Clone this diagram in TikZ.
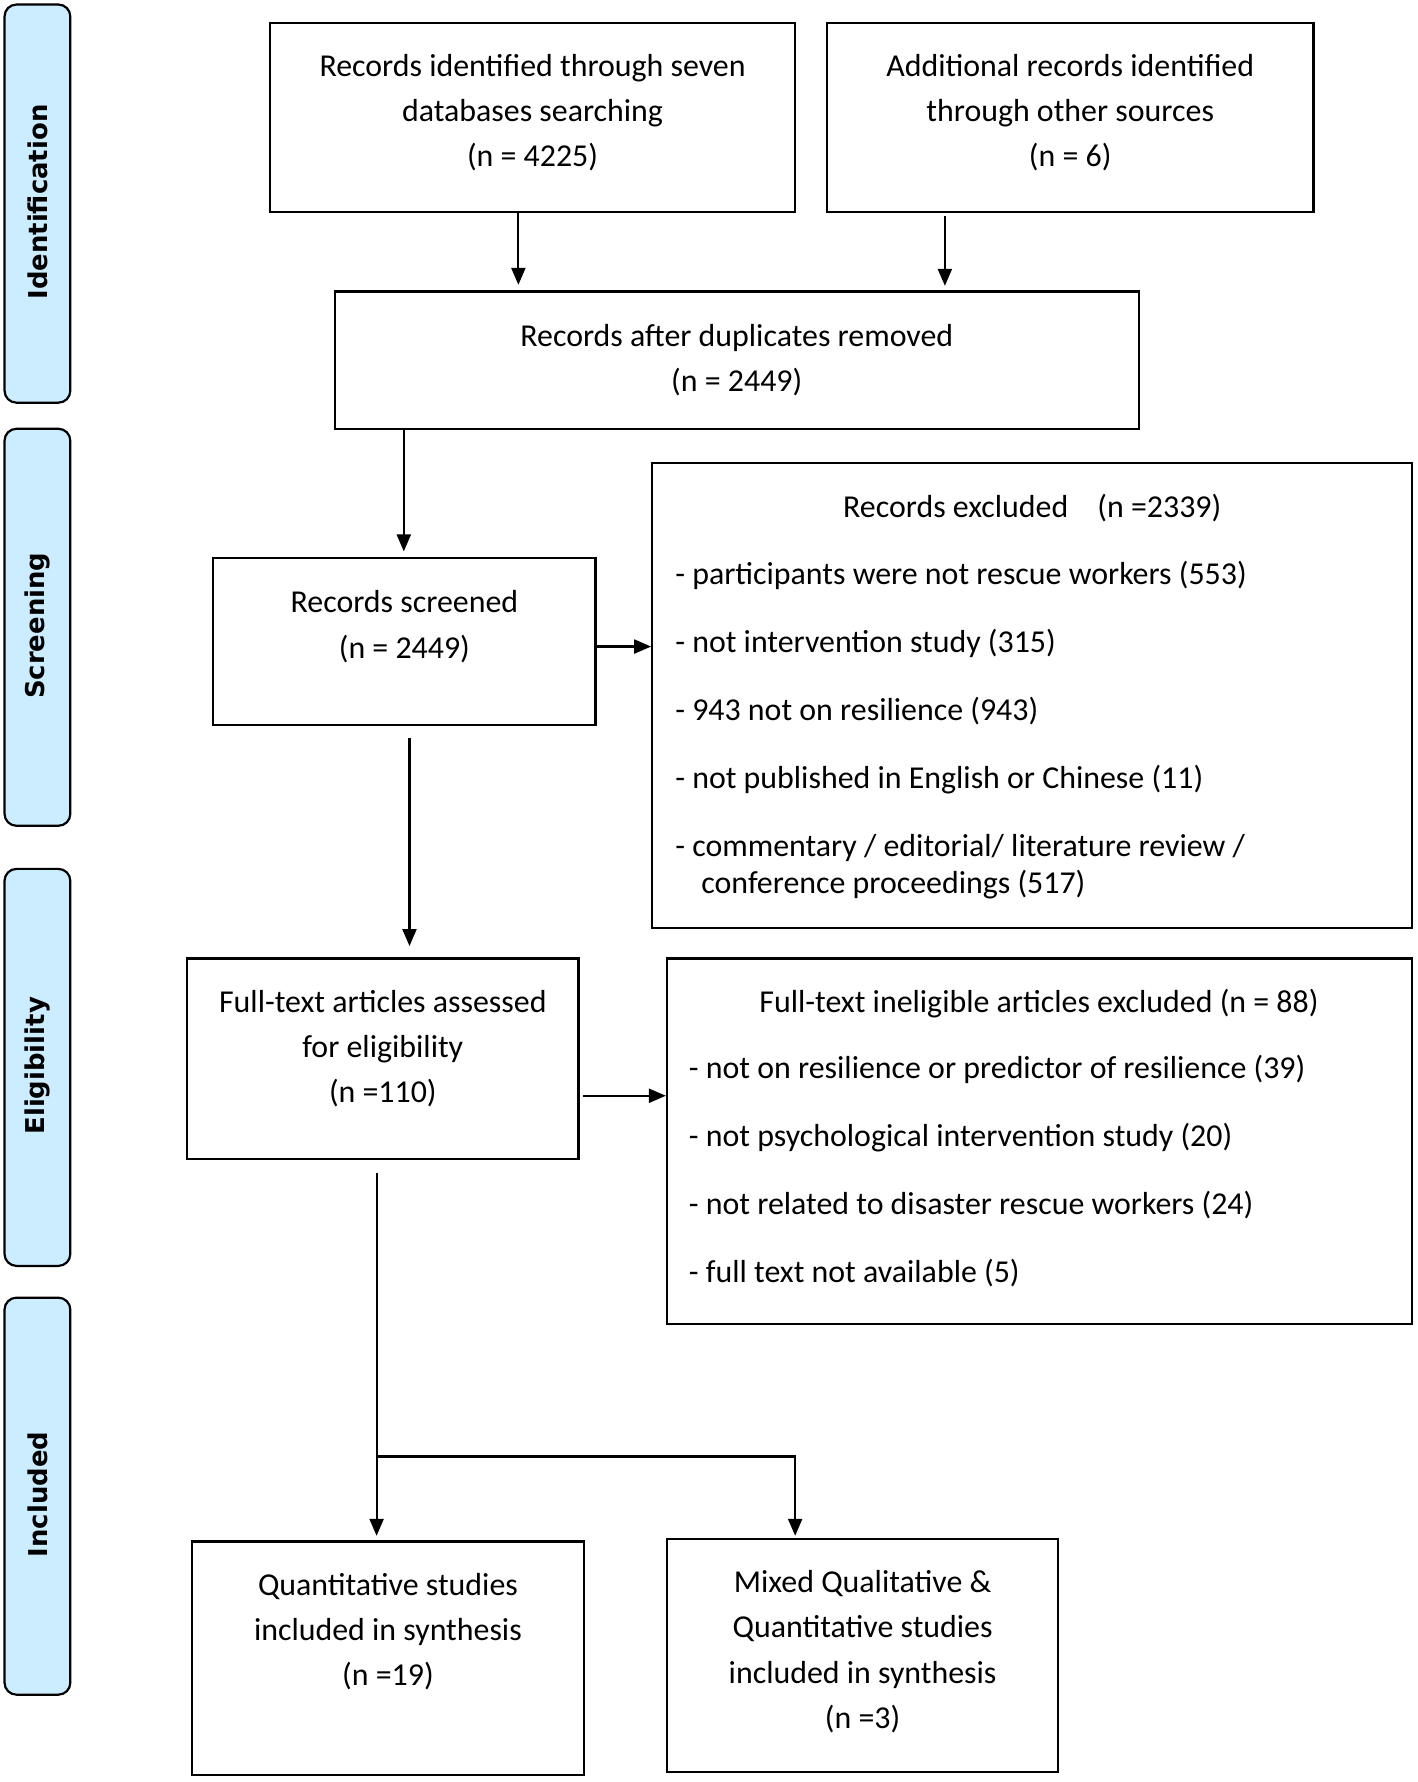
\documentclass[tikz,border=0pt]{standalone}
\usepackage{fontspec}
\setmainfont{Carlito}
\newfontfamily\lanefont{DejaVu Sans}
\usetikzlibrary{arrows.meta,fit}
\definecolor{lanefill}{RGB}{204,236,255}
\begin{document}
\begin{tikzpicture}[x=0.02cm,y=-0.02cm,
  box/.style={draw, line width=1.1pt, inner sep=0pt},
  lane/.style={draw, line width=1.1pt, fill=lanefill, rounded corners=6pt, inner sep=0pt},
  lanetxt/.style={rotate=90, inner sep=0pt, xshift=0.8pt, font=\lanefont\bfseries\fontsize{13pt}{15pt}\selectfont},
  txt/.style={align=center, inner sep=0pt, yshift=-1.4pt, font=\fontsize{16pt}{22.7pt}\selectfont},
  item/.style={anchor=west, inner sep=0pt, yshift=-1.4pt, font=\fontsize{16pt}{22.7pt}\selectfont, text height=11pt, text depth=3.5pt},
  arr/.style={line width=1.1pt, -{Triangle[length=8.5pt,width=7pt]}},
  ln/.style={line width=1.1pt}]
\useasboundingbox (0,0) rectangle (1250,1571);

% lanes
\node[lane, fit={(4,4)(62,355)}] (L1) {};
\node[lanetxt] (L1t) at (L1.center) {Identification};
\node[lane, fit={(4,378)(62,728)}] (L2) {};
\node[lanetxt] (L2t) at (L2.center) {Screening};
\node[lane, fit={(4,766)(62,1116)}] (L3) {};
\node[lanetxt] (L3t) at (L3.center) {Eligibility};
\node[lane, fit={(4,1144)(62,1494)}] (L4) {};
\node[lanetxt] (L4t) at (L4.center) {Included};

% boxes
\node[box, fit={(238,20)(701,187)}] (A) {};
\node[txt] (At) at (469.5,97) {Records identified through seven\\databases searching\\(n = 4225)};
\node[box, fit={(729,20)(1158,187)}] (B) {};
\node[txt] (Bt) at (943.5,97) {Additional records identified\\through other sources\\(n = 6)};
\node[box, fit={(295,257)(1004,378)}] (C) {};
\node[txt] (Ct) at (649.5,315) {Records after duplicates removed\\(n = 2449)};
\node[box, fit={(188,492)(525,639)}] (D) {};
\node[txt] (Dt) at (356.5,550) {Records screened\\(n = 2449)};
\node[box, fit={(575,408)(1245,818)}] (E) {};
\node[txt] (Et) at (910,445) {Records excluded\hspace{11pt} (n =2339)};
\node[item] (E1) at (595,506) {- participants were not rescue workers (553)};
\node[item] (E2) at (595,566) {- not intervention study (315)};
\node[item] (E3) at (595,626) {- 943 not on resilience (943)};
\node[item] (E4) at (595,686) {- not published in English or Chinese (11)};
\node[item] (E5) at (595,746) {- commentary / editorial/ literature review /};
\node[item] (E6) at (618,779) {conference proceedings (517)};
\node[box, fit={(165,845)(510,1022)}] (F) {};
\node[txt] (Ft) at (337.5,922) {Full-text articles assessed\\for eligibility\\(n =110)};
\node[box, fit={(588,845)(1245,1167)}] (G) {};
\node[txt] (Gt) at (916,882) {Full-text ineligible articles excluded (n = 88)};
\node[item] (G1) at (607,942) {- not on resilience or predictor of resilience (39)};
\node[item] (G2) at (607,1002) {- not psychological intervention study (20)};
\node[item] (G3) at (607,1062) {- not related to disaster rescue workers (24)};
\node[item] (G4) at (607,1122) {- full text not available (5)};
\node[box, fit={(169,1359)(515,1565)}] (H) {};
\node[txt] (Ht) at (342,1436) {Quantitative studies\\included in synthesis\\(n =19)};
\node[box, fit={(588,1357)(933,1562)}] (I) {};
\node[txt] (It) at (760.5,1453.5) {Mixed Qualitative \&\\Quantitative studies\\included in synthesis\\(n =3)};

% connector coordinates
\coordinate (xa) at (457,0);
\coordinate (xb) at (833,0);
\coordinate (xc) at (356,0);
\coordinate (xd) at (361,0);
\coordinate (xf) at (332,0);
\coordinate (xi) at (701,0);
\coordinate (yd) at (0,570);
\coordinate (yf) at (0,966);
\coordinate (ybr) at (0,1284);

\draw[arr, shorten >=2.8pt] (xa |- A.south) -- (xa |- C.north);
\draw[arr, shorten >=2.3pt, shorten <=1.5pt] (xb |- B.south) -- (xb |- C.north);
\draw[arr, shorten >=2.8pt] (xc |- C.south) -- (xc |- D.north);
\draw[arr] (D.east |- yd) -- (E.west |- yd);
\draw[arr, shorten <=6.3pt, shorten >=5.7pt] (xd |- D.south) -- (xd |- F.north);
\draw[arr, shorten <=1.7pt] (F.east |- yf) -- (G.west |- yf);
\draw[arr, shorten <=6.3pt, shorten >=2.3pt] (xf |- F.south) -- (xf |- H.north);
\coordinate (br) at (xf |- ybr);
\draw[arr, shorten >=1.2pt] (br) -| (xi |- I.north);
\end{tikzpicture}
\end{document}
